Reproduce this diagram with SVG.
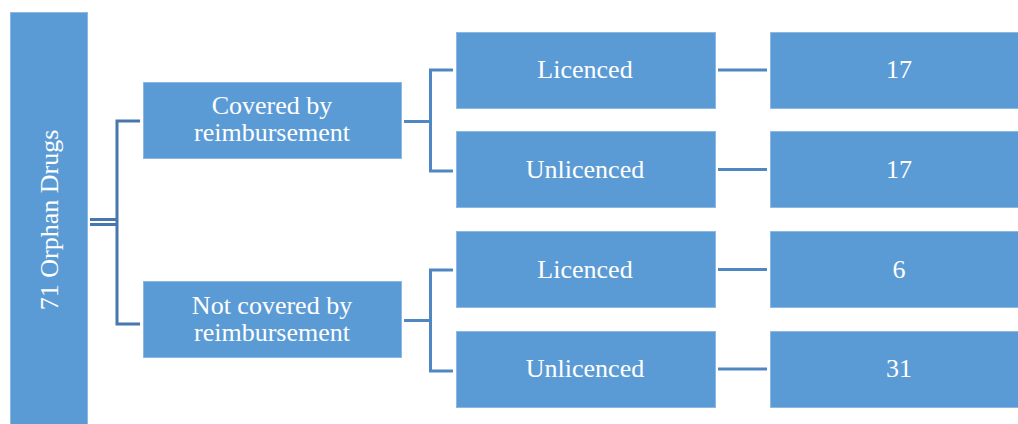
<svg xmlns="http://www.w3.org/2000/svg" width="1018" height="424" viewBox="0 0 1018 424">
<style>
.box{fill:#5B9BD5;stroke:#8DB8E3;stroke-width:1}
.t{fill:#FFFFFF;font-family:"Liberation Serif","Times New Roman",serif;font-size:26px;text-anchor:middle}
.c1{fill:none;stroke:#4877AE;stroke-width:3}
.c2{fill:none;stroke:#5087C2;stroke-width:3}
</style>
<rect width="1018" height="424" fill="#FFFFFF"/>
<g id="connectors">
<path class="c1" d="M90 219.5H117M90 224.5H117"/>
<path class="c1" d="M140 121H117V324H140"/>
<path class="c2" d="M404 121.5H431" stroke-width="4"/>
<path class="c2" d="M453 70H430.5V171H453"/>
<path class="c2" d="M404 320.5H431" stroke-width="4"/>
<path class="c2" d="M453 270H430.5V371H453"/>
<path class="c2" d="M718 70H767M718 169.5H767M718 269.5H767M718 369H767"/>
</g>
<g id="root">
<rect class="box" x="10.5" y="12.5" width="77" height="412"/>
<text class="t" transform="translate(58,220) rotate(-90)">71 Orphan Drugs</text>
</g>
<g id="covered">
<rect class="box" x="143.5" y="82.5" width="258" height="76"/>
<text class="t" x="272" y="114">Covered by</text>
<text class="t" x="272" y="141">reimbursement</text>
</g>
<g id="notcovered">
<rect class="box" x="143.5" y="281.5" width="258" height="76"/>
<text class="t" x="272" y="314">Not covered by</text>
<text class="t" x="272" y="341">reimbursement</text>
</g>
<g id="lic1">
<rect class="box" x="456.5" y="32.5" width="259" height="76"/>
<text class="t" x="585" y="78">Licenced</text>
</g>
<g id="unlic1">
<rect class="box" x="456.5" y="131.5" width="259" height="76"/>
<text class="t" x="585" y="178">Unlicenced</text>
</g>
<g id="lic2">
<rect class="box" x="456.5" y="231.5" width="259" height="76"/>
<text class="t" x="585" y="278">Licenced</text>
</g>
<g id="unlic2">
<rect class="box" x="456.5" y="331.5" width="259" height="76"/>
<text class="t" x="585" y="377">Unlicenced</text>
</g>
<g id="n1">
<rect class="box" x="770.5" y="32.5" width="248" height="76"/>
<text class="t" x="899" y="78">17</text>
</g>
<g id="n2">
<rect class="box" x="770.5" y="131.5" width="248" height="76"/>
<text class="t" x="899" y="178">17</text>
</g>
<g id="n3">
<rect class="box" x="770.5" y="231.5" width="248" height="76"/>
<text class="t" x="899" y="278">6</text>
</g>
<g id="n4">
<rect class="box" x="770.5" y="331.5" width="248" height="76"/>
<text class="t" x="899" y="377">31</text>
</g>
</svg>
